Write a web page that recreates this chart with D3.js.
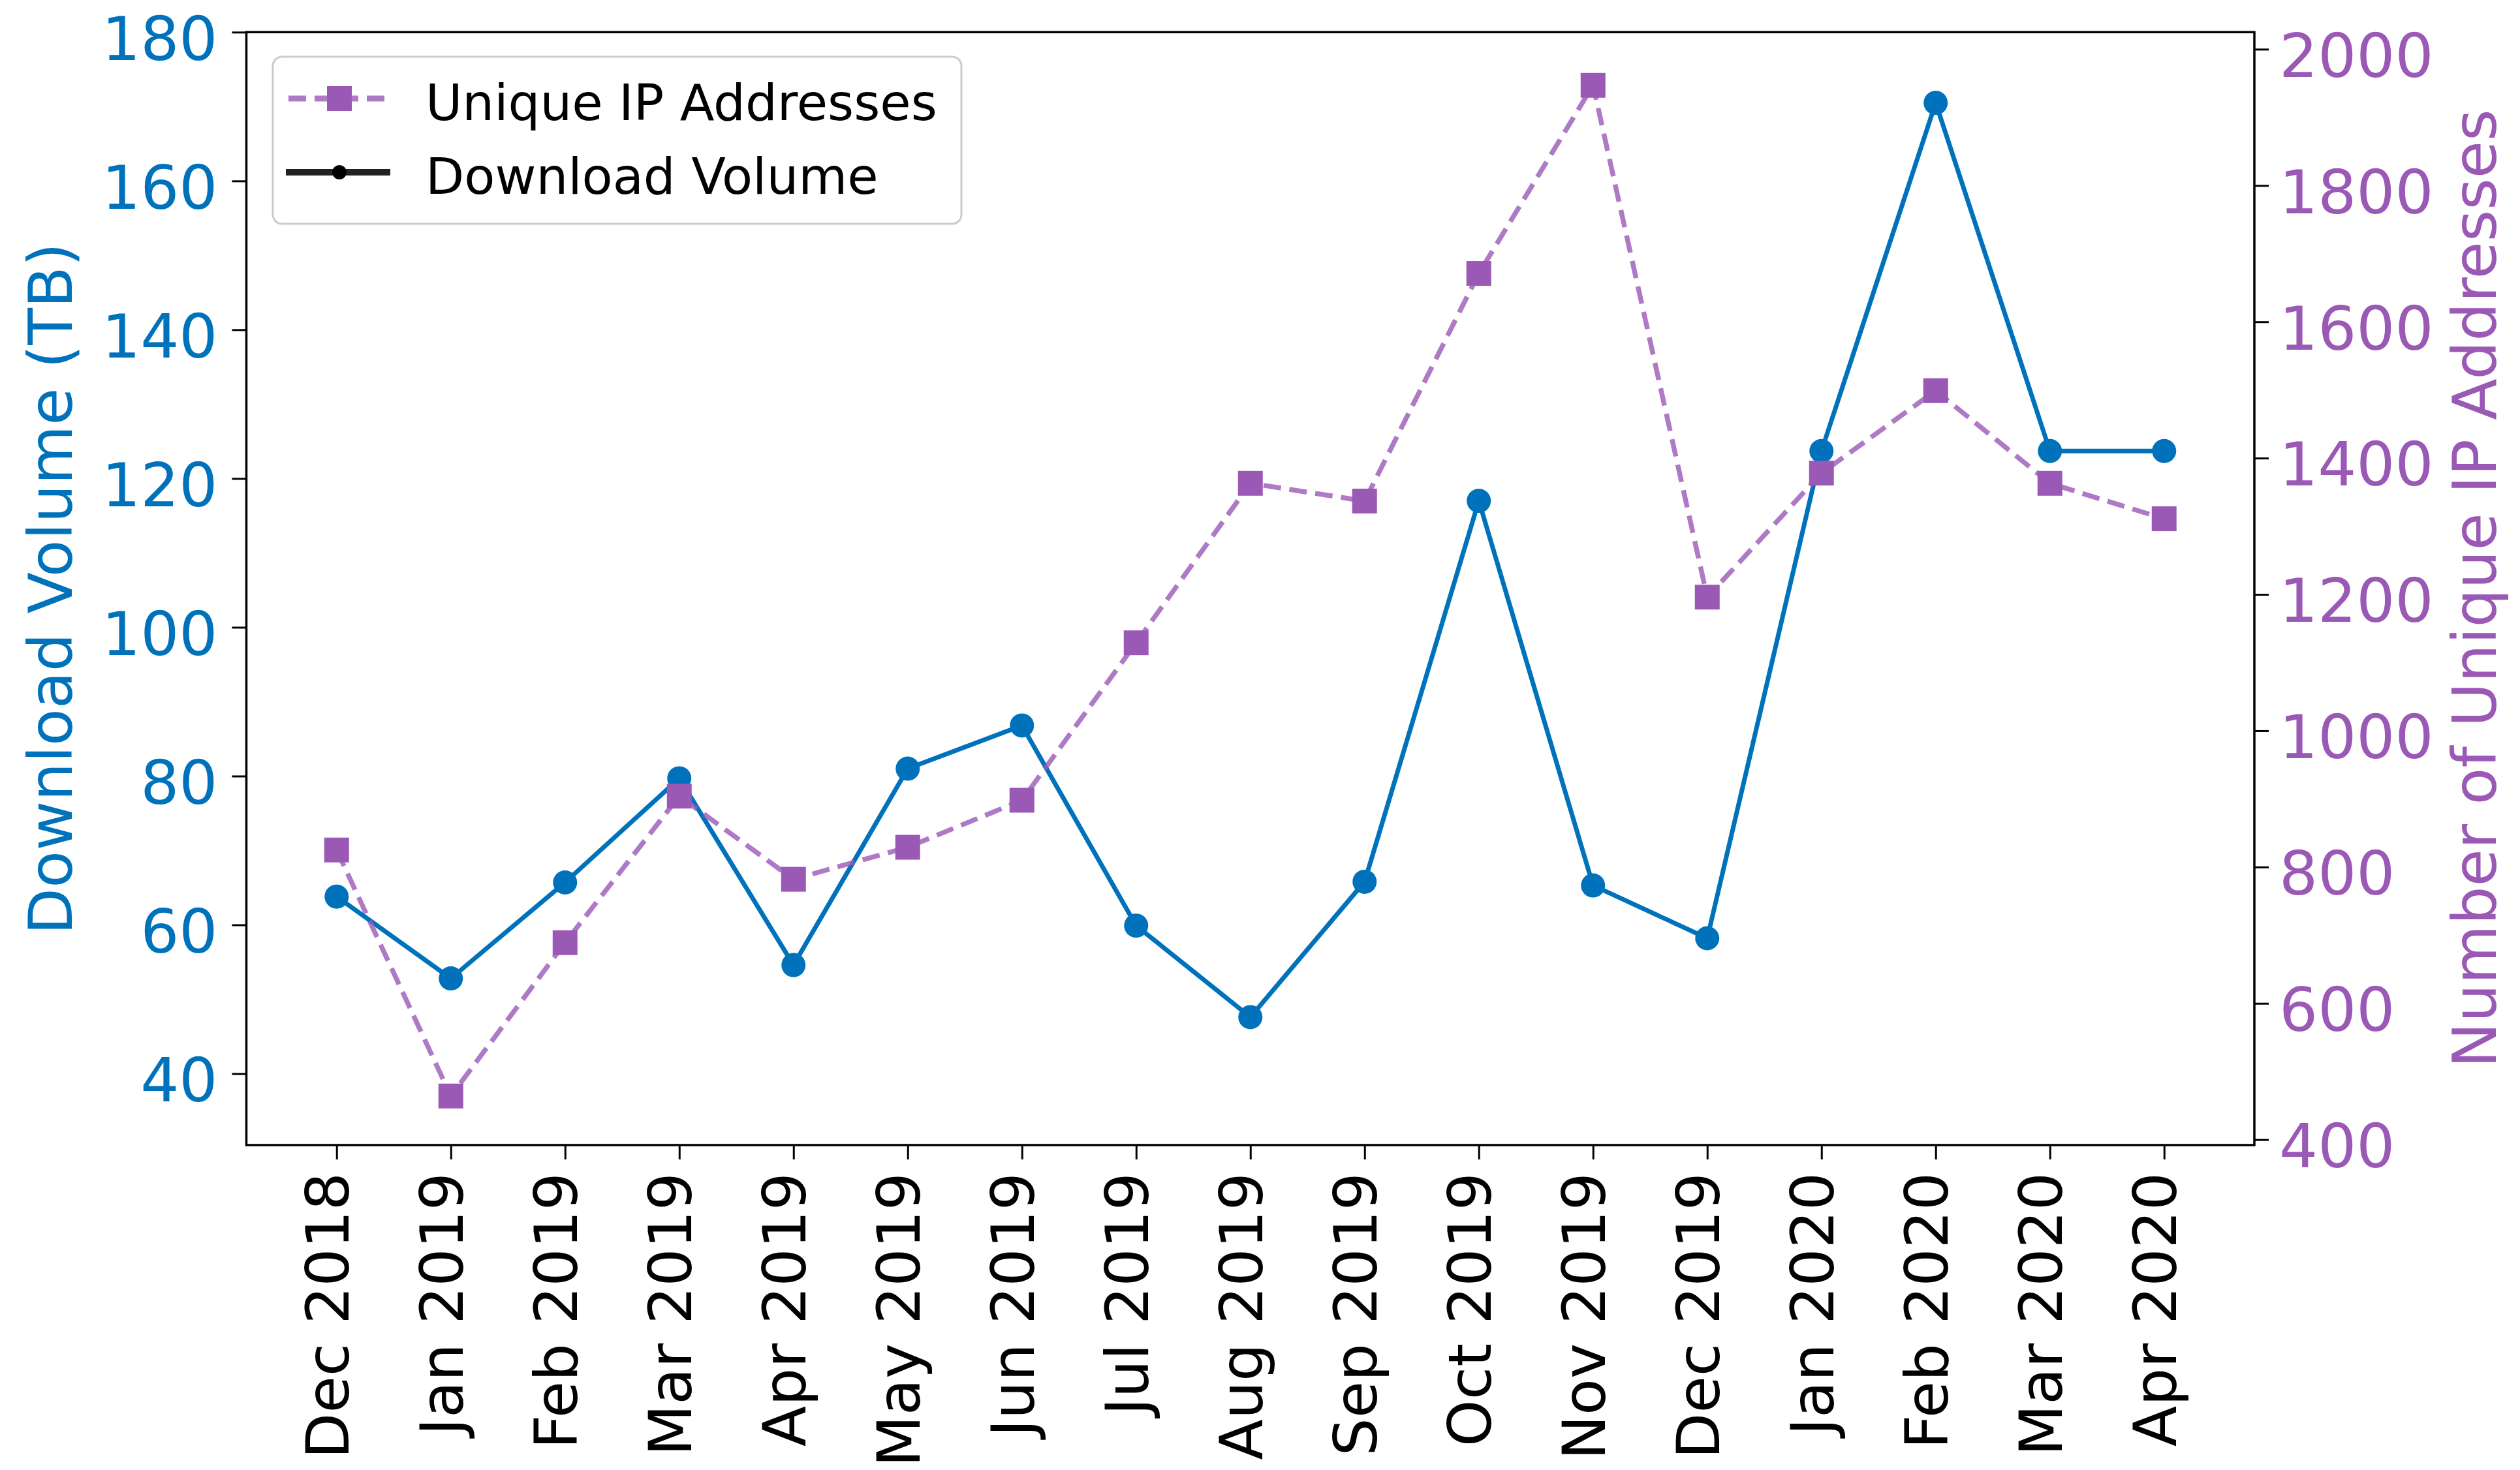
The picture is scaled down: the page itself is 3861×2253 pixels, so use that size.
<!DOCTYPE html>
<html>
<head>
<meta charset="utf-8">
<script src="https://cdn.jsdelivr.net/npm/d3@7"></script>
<style>
  html, body { margin: 0; padding: 0; background: #fff; }
  svg { display: block; }
  svg text { font-family: "DejaVu Sans", "Noto Sans", sans-serif !important; }
</style>
</head>
<body>
<svg id="chart" width="3861" height="2253"></svg>
<script>
// ---- data ----
const months = ["Dec 2018","Jan 2019","Feb 2019","Mar 2019","Apr 2019","May 2019","Jun 2019",
  "Jul 2019","Aug 2019","Sep 2019","Oct 2019","Nov 2019","Dec 2019","Jan 2020","Feb 2020",
  "Mar 2020","Apr 2020"];
const downloadTB = [63.8, 52.8, 65.7, 79.7, 54.6, 81.0, 86.8, 59.9, 47.6, 65.8, 117.0, 65.3,
  58.2, 123.7, 170.5, 123.7, 123.7];
const uniqueIPs = [825, 464, 689, 904, 782, 829, 898, 1129, 1363, 1337, 1671, 1947, 1196,
  1378, 1499, 1363, 1311];
const leftTicks = [40, 60, 80, 100, 120, 140, 160, 180];
const rightTicks = [400, 600, 800, 1000, 1200, 1400, 1600, 1800, 2000];
const legendLabels = ["Unique IP Addresses", "Download Volume"];

// ---- layout ----
const plot = { left: 377.5, right: 3454, top: 49.3, bottom: 1755 };
const BLUE = "#0072BB", PURPLE = "#9B59B6";
const FS = 93, XFS = 91.5, LFS = 77, TICK = 22;
const FONT = "DejaVu Sans";

const svg = d3.select("#chart");

const x = d3.scaleLinear().domain([-0.79, months.length - 1 + 0.79]).range([plot.left, plot.right]);
const yL = d3.scaleLinear().domain([30.4, 180]).range([plot.bottom, plot.top]);
const yR = d3.scaleLinear().domain([392, 2025]).range([plot.bottom, plot.top]);

// ---- axes ----
const xAxis = d3.axisBottom(x).tickValues(d3.range(months.length))
  .tickFormat(i => months[i]).tickSize(TICK).tickSizeOuter(0);
const gx = svg.append("g").attr("transform", `translate(0,${plot.bottom})`).call(xAxis);

const gl = svg.append("g").attr("transform", `translate(${plot.left},0)`)
  .call(d3.axisLeft(yL).tickValues(leftTicks).tickFormat(d3.format("d")).tickSize(TICK).tickSizeOuter(0));

const gr = svg.append("g").attr("transform", `translate(${plot.right},0)`)
  .call(d3.axisRight(yR).tickValues(rightTicks).tickFormat(d3.format("d")).tickSize(TICK).tickSizeOuter(0));

svg.selectAll("g").attr("font-family", FONT).attr("font-size", FS);
svg.selectAll(".domain").remove();
svg.selectAll(".tick line").attr("stroke", "#000").attr("stroke-width", 3);

gx.selectAll("text")
  .attr("transform", "rotate(-90)")
  .attr("text-anchor", "end")
  .attr("x", -42).attr("y", 0).attr("dy", "0.19em")
  .attr("fill", "#000").style("font-size", XFS + "px");
gl.selectAll("text").attr("x", -44).attr("dy", "0.45em").attr("fill", BLUE).style("font-size", FS + "px");
gr.selectAll("text").attr("x", 38).attr("dy", "0.45em").attr("fill", PURPLE).style("font-size", FS + "px");

// frame
svg.append("rect")
  .attr("x", plot.left).attr("y", plot.top)
  .attr("width", plot.right - plot.left).attr("height", plot.bottom - plot.top)
  .attr("fill", "none").attr("stroke", "#000").attr("stroke-width", 3.5);

// axis labels
const midY = (plot.top + plot.bottom) / 2;
svg.append("text").attr("transform", `translate(110,${midY}) rotate(-90)`)
  .attr("text-anchor", "middle").attr("fill", BLUE)
  .attr("font-family", FONT).style("font-size", FS + "px")
  .text("Download Volume (TB)");
svg.append("text").attr("transform", `translate(3824,${midY}) rotate(-90)`)
  .attr("text-anchor", "middle").attr("fill", PURPLE)
  .attr("font-family", FONT).style("font-size", FS + "px")
  .text("Number of Unique IP Addresses");

// ---- series: download volume ----
const lineL = d3.line().x((d, i) => x(i)).y(d => yL(d));
svg.append("path").datum(downloadTB).attr("d", lineL)
  .attr("fill", "none").attr("stroke", BLUE).attr("stroke-width", 7)
  .attr("stroke-linejoin", "round");
svg.append("g").selectAll("circle").data(downloadTB).join("circle")
  .attr("cx", (d, i) => x(i)).attr("cy", d => yL(d)).attr("r", 18.5)
  .attr("fill", BLUE);

// ---- series: unique IPs ----
const lineR = d3.line().x((d, i) => x(i)).y(d => yR(d));
svg.append("path").datum(uniqueIPs).attr("d", lineR)
  .attr("fill", "none").attr("stroke", PURPLE).attr("stroke-opacity", 0.8)
  .attr("stroke-width", 7.5).attr("stroke-dasharray", "27,13");
const SQ = 38;
svg.append("g").selectAll("rect").data(uniqueIPs).join("rect")
  .attr("x", (d, i) => x(i) - SQ / 2).attr("y", d => yR(d) - SQ / 2)
  .attr("width", SQ).attr("height", SQ).attr("fill", PURPLE);

// ---- legend ----
const lg = svg.append("g");
lg.append("rect").attr("x", 418).attr("y", 87).attr("width", 1055).attr("height", 256)
  .attr("rx", 14).attr("fill", "#fff").attr("fill-opacity", 0.85)
  .attr("stroke", "#cccccc").attr("stroke-width", 3);
const rowY = [151, 264];
lg.append("line").attr("x1", 442).attr("x2", 598).attr("y1", rowY[0]).attr("y2", rowY[0])
  .attr("stroke", PURPLE).attr("stroke-opacity", 0.8).attr("stroke-width", 9)
  .attr("stroke-dasharray", "27,13");
lg.append("rect").attr("x", 520 - SQ / 2).attr("y", rowY[0] - SQ / 2)
  .attr("width", SQ).attr("height", SQ).attr("fill", PURPLE);
lg.append("line").attr("x1", 438).attr("x2", 598).attr("y1", rowY[1]).attr("y2", rowY[1])
  .attr("stroke", "#222").attr("stroke-width", 10);
lg.append("circle").attr("cx", 520).attr("cy", rowY[1]).attr("r", 11).attr("fill", "#000");
lg.selectAll("text.lbl").data(legendLabels).join("text").attr("class", "lbl")
  .attr("x", 652).attr("y", (d, i) => rowY[i]).attr("dy", "0.43em")
  .attr("fill", "#000").attr("font-family", FONT).style("font-size", LFS + "px").text(d => d);
</script>
</body>
</html>
